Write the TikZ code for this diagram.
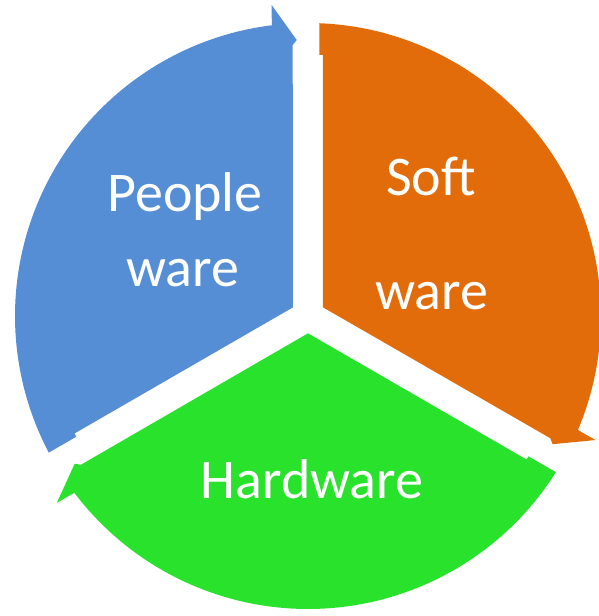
\documentclass[tikz,border=0pt]{standalone}
\usepackage{fontspec}
\setmainfont{Carlito}
\definecolor{peopleblue}{RGB}{85,142,213}
\definecolor{softorange}{RGB}{227,108,10}
\definecolor{hardgreen}{RGB}{41,226,44}
\begin{document}
\begin{tikzpicture}[x=1pt,y=1pt]
\tikzset{lbl/.style={text=white,font=\fontsize{56}{60}\selectfont,anchor=base,inner sep=0pt}}
\useasboundingbox (-308,-300) rectangle (290,316);

% orange part, the other two are the same turned by 120
\fill[softorange] (15,8.66) -- (15,261) -- (11.3,261) -- (87.79:293)
  arc[start angle=87.79,end angle=-22.9,radius=293]
  -- (-23.34:313.1) -- (-27.66:276.2) -- (-26.77:271.4) -- cycle;

\begin{scope}[rotate=120]
\fill[peopleblue] (15,8.66) -- (15,261) -- (11.3,261) -- (87.79:293)
  arc[start angle=87.79,end angle=-22.9,radius=293]
  -- (-23.34:313.1) -- (-27.66:276.2) -- (-26.77:271.4) -- cycle;
\end{scope}

\begin{scope}[rotate=-120]
\fill[hardgreen] (15,8.66) -- (15,261) -- (11.3,261) -- (87.79:293)
  arc[start angle=87.79,end angle=-22.9,radius=293]
  -- (-23.34:313.1) -- (-27.66:276.2) -- (-26.77:271.4) -- cycle;
\end{scope}

\node[lbl] (people) at (-123,104) {People};
\node[lbl] (peopleware) at (-125,29) {ware};
\node[lbl] (soft) at (123,120) {Soft};
\node[lbl] (software) at (124,6) {ware};
\node[lbl] (hardware) at (4,-182) {Hardware};
\end{tikzpicture}
\end{document}
